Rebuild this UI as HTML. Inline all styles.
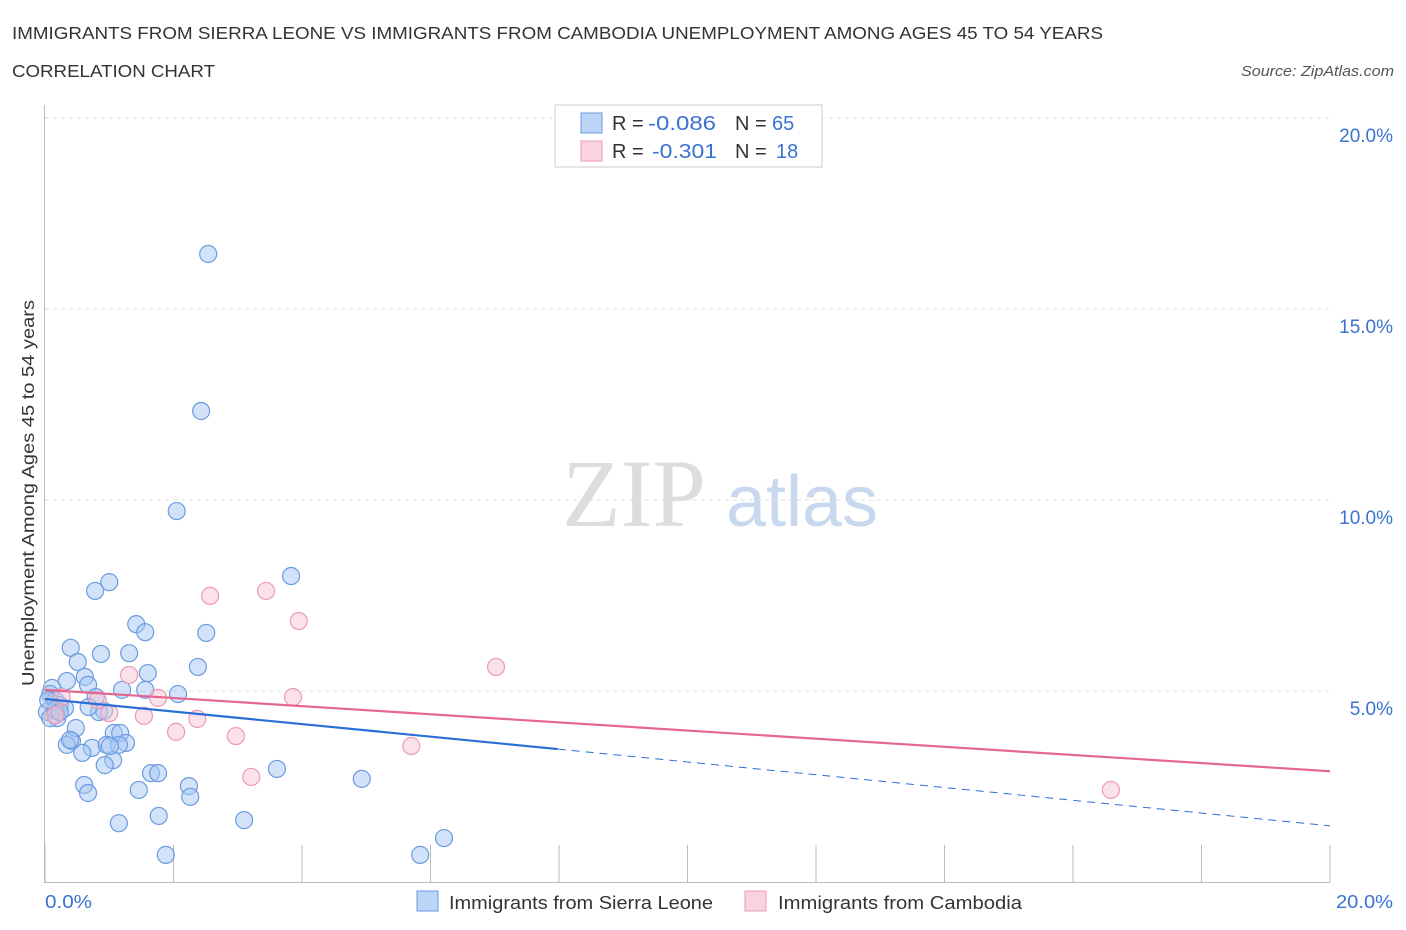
<!DOCTYPE html>
<html><head><meta charset="utf-8"><style>
body{margin:0;background:#fff;font-family:"Liberation Sans",sans-serif;}
svg{display:block}
</style></head><body>
<svg id="chart" width="1406" height="930">
<text x="12" y="39" font-size="17.5" fill="#333" textLength="1091" lengthAdjust="spacingAndGlyphs">IMMIGRANTS FROM SIERRA LEONE VS IMMIGRANTS FROM CAMBODIA UNEMPLOYMENT AMONG AGES 45 TO 54 YEARS</text>
<text x="12" y="77" font-size="17.5" fill="#333" textLength="203" lengthAdjust="spacingAndGlyphs">CORRELATION CHART</text>
<text x="1241" y="76" font-size="15" font-style="italic" fill="#555" textLength="153" lengthAdjust="spacingAndGlyphs">Source: ZipAtlas.com</text>
<text x="634" y="526" font-size="96" font-family="Liberation Serif,serif" fill="#ddd" text-anchor="middle">ZIP</text>
<text x="802" y="526" font-size="72" fill="#c8d8ee" text-anchor="middle">atlas</text>
<text transform="translate(34,493) rotate(-90)" font-size="17.5" fill="#333" text-anchor="middle" textLength="386" lengthAdjust="spacingAndGlyphs">Unemployment Among Ages 45 to 54 years</text>
<g id="grid"></g><g id="marks"></g>
<line x1="44.5" y1="105" x2="44.5" y2="882" stroke="#bbb"/>
<line x1="44" y1="882.5" x2="1330" y2="882.5" stroke="#bbb"/>
<text x="45" y="908" font-size="18.5" fill="#3a72d0" textLength="47" lengthAdjust="spacingAndGlyphs">0.0%</text>
<text x="1336" y="908" font-size="18.5" fill="#3a72d0" textLength="57" lengthAdjust="spacingAndGlyphs">20.0%</text>
<g>
<rect x="555" y="105" width="267" height="62" fill="#fff" stroke="#ccc"/>
<rect x="581" y="113" width="21" height="20" fill="#bcd5f7" stroke="#6a9ae6"/>
<rect x="581" y="141" width="21" height="20" fill="#fbd3df" stroke="#ee9ab3"/>
<text x="612" y="130" font-size="20" fill="#333">R =</text>
<text x="648" y="130" font-size="20" fill="#3a72d0" textLength="68" lengthAdjust="spacingAndGlyphs">-0.086</text>
<text x="735" y="130" font-size="20" fill="#333">N =</text>
<text x="772" y="130" font-size="20" fill="#3a72d0">65</text>
<text x="612" y="158" font-size="20" fill="#333">R =</text>
<text x="652" y="158" font-size="20" fill="#3a72d0" textLength="65" lengthAdjust="spacingAndGlyphs">-0.301</text>
<text x="735" y="158" font-size="20" fill="#333">N =</text>
<text x="776" y="158" font-size="20" fill="#3a72d0">18</text>
</g>
<g>
<rect x="417" y="891" width="21" height="20" fill="#bcd5f7" stroke="#6a9ae6"/>
<text x="449" y="909" font-size="18.5" fill="#333" textLength="264" lengthAdjust="spacingAndGlyphs">Immigrants from Sierra Leone</text>
<rect x="745" y="891" width="21" height="20" fill="#fbd3df" stroke="#ee9ab3"/>
<text x="778" y="909" font-size="18.5" fill="#333" textLength="244" lengthAdjust="spacingAndGlyphs">Immigrants from Cambodia</text>
</g>
</svg>
<script>
const yTicks=[5,10,15,20];
const yTickLabels=["5.0%","10.0%","15.0%","20.0%"];
const blueX=[2.54,2.43,2.05,3.83,1.00,0.78,1.42,1.56,2.51,0.40,0.87,1.31,0.51,1.60,2.38,0.62,0.34,0.67,1.20,1.56,2.07,0.11,0.08,0.16,0.23,0.31,0.03,0.19,0.79,0.92,0.84,0.68,1.07,1.17,0.42,0.48,0.34,0.73,0.58,0.96,1.06,0.93,1.26,1.15,1.01,0.61,0.67,1.46,1.65,1.76,2.24,2.26,1.77,1.15,3.10,1.88,4.93,3.61,5.84,6.21,0.08,0.16,0.23,0.05,0.39];
const blueY=[16.44,12.33,9.71,8.01,7.85,7.62,6.75,6.54,6.52,6.13,5.97,5.99,5.76,5.47,5.63,5.37,5.26,5.16,5.03,5.03,4.92,5.08,4.92,4.76,4.63,4.55,4.45,4.29,4.84,4.48,4.45,4.58,3.90,3.90,3.69,4.03,3.59,3.51,3.38,3.59,3.19,3.06,3.64,3.59,3.56,2.54,2.33,2.41,2.85,2.85,2.51,2.23,1.73,1.54,1.62,0.71,2.70,2.96,0.71,1.15,4.29,4.50,4.45,4.76,3.72];
const pinkX=[2.57,3.44,3.95,7.02,1.31,1.76,3.86,0.82,0.26,1.00,1.54,2.37,2.04,2.97,5.70,3.21,16.59,0.16];
const pinkY=[7.49,7.62,6.83,5.63,5.42,4.82,4.84,4.76,4.84,4.42,4.35,4.27,3.93,3.82,3.56,2.75,2.41,4.37];
const blueTrend=[4.79,3.48,1.47];
const blueTrendX=[0,7.98,20];
const pinkTrend=[5.03,2.90];
const pinkTrendX=[0,20];
const X0=45,X1=1330,Y0=882,Y1=118;
const sx=v=>X0+v/20*(X1-X0);
const sy=v=>Y0-v/20*(Y0-Y1);
const NS="http://www.w3.org/2000/svg";
const grid=document.getElementById('grid'),marks=document.getElementById('marks');
function mk(tag,attrs,parent){const e=document.createElementNS(NS,tag);for(const k in attrs)e.setAttribute(k,attrs[k]);parent.appendChild(e);return e;}
yTicks.forEach((t,i)=>{
 const l=mk('line',{x1:45,x2:1330,y1:sy(t),y2:sy(t),stroke:'#ddd','stroke-dasharray':'4,4'},grid);
 
 
 const tx=mk('text',{x:1393,y:sy(t)+24,'font-size':19,fill:'#3a72d0','text-anchor':'end'},grid);
 tx.textContent=yTickLabels[i];
 
 
});
for(let i=0;i<=10;i++){
 const l=mk('line',{x1:sx(i*2),x2:sx(i*2),y1:845,y2:882,stroke:'#bbb'},grid);
 
 
}
blueX.forEach((x,i)=>{
 const c=mk('circle',{cx:sx(x),cy:sy(blueY[i]),r:8.5,fill:'rgba(165,198,242,0.5)',stroke:'#6b9be2','stroke-width':1.2},marks);
 
 
});
pinkX.forEach((x,i)=>{
 const c=mk('circle',{cx:sx(x),cy:sy(pinkY[i]),r:8.5,fill:'rgba(248,195,212,0.5)',stroke:'#ee9ab3','stroke-width':1.2},marks);
 
 
});
const bl=mk('line',{x1:sx(blueTrendX[0]),y1:sy(blueTrend[0]),x2:sx(blueTrendX[1]),y2:sy(blueTrend[1]),stroke:'#2a6fd6','stroke-width':2.2},marks);


const bd=mk('line',{x1:sx(blueTrendX[1]),y1:sy(blueTrend[1]),x2:sx(blueTrendX[2]),y2:sy(blueTrend[2]),stroke:'#2a6fd6','stroke-width':1,'stroke-dasharray':'8,6'},marks);


const pl=mk('line',{x1:sx(pinkTrendX[0]),y1:sy(pinkTrend[0]),x2:sx(pinkTrendX[1]),y2:sy(pinkTrend[1]),stroke:'#e5678f','stroke-width':2.2},marks);


</script>
</body></html>
